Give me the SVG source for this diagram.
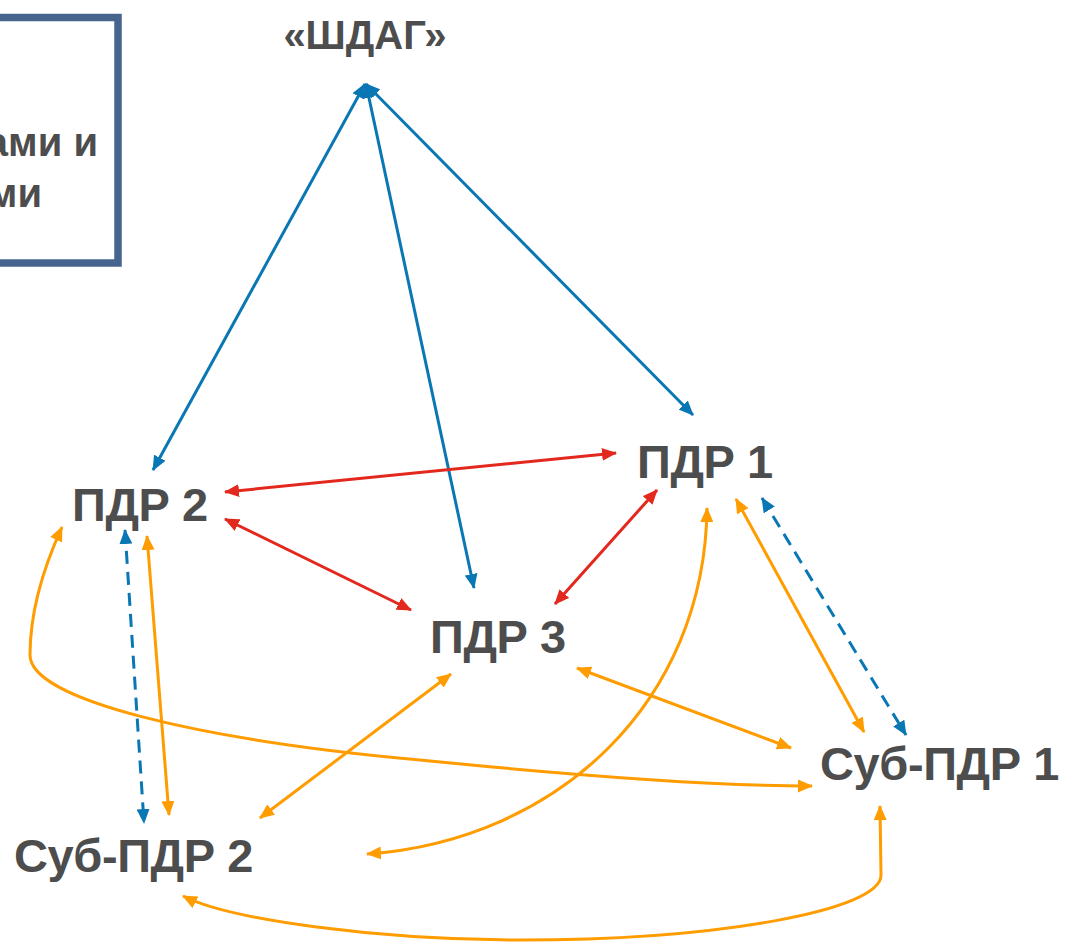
<svg xmlns="http://www.w3.org/2000/svg" width="1068" height="945" viewBox="0 0 1068 945">
<style>
.t{font-family:"Liberation Sans",Arial,sans-serif;font-weight:bold;fill:#4d4d4d}
.n{font-size:47px;letter-spacing:-0.4px}
.b{stroke:#0a77b5;stroke-width:3;fill:none}
.r{stroke:#e3281e;stroke-width:3;fill:none}
.o{stroke:#ff9c00;stroke-width:3;fill:none}
.d{stroke-dasharray:13 8}
</style>
<defs>
<marker id="mb" viewBox="0 0 15 13" markerUnits="userSpaceOnUse" markerWidth="15" markerHeight="13" refX="14" refY="6.5" orient="auto-start-reverse"><path d="M0,0 L15,6.5 L0,13 z" fill="#0a77b5"/></marker>
<marker id="mr" viewBox="0 0 15 13" markerUnits="userSpaceOnUse" markerWidth="15" markerHeight="13" refX="14" refY="6.5" orient="auto-start-reverse"><path d="M0,0 L15,6.5 L0,13 z" fill="#e3281e"/></marker>
<marker id="mo" viewBox="0 0 15 13" markerUnits="userSpaceOnUse" markerWidth="15" markerHeight="13" refX="14" refY="6.5" orient="auto-start-reverse"><path d="M0,0 L15,6.5 L0,13 z" fill="#ff9c00"/></marker>
</defs>
<rect width="1068" height="945" fill="#ffffff"/>
<g id="legend">
<rect x="-20" y="17.5" width="138" height="245.5" fill="none" stroke="#46648e" stroke-width="7.5"/>
<text class="t" x="98" y="156" font-size="40" text-anchor="end">ами и</text>
<text class="t" x="42" y="207" font-size="40" text-anchor="end">ми</text>
</g>
<g id="connectors">
<path class="b" d="M365,84 L153,470" marker-start="url(#mb)" marker-end="url(#mb)"/>
<path class="b" d="M366,84 L474,588" marker-start="url(#mb)" marker-end="url(#mb)"/>
<path class="b" d="M366,84 L693,415" marker-start="url(#mb)" marker-end="url(#mb)"/>
<path class="r" d="M225,492 L616,453" marker-start="url(#mr)" marker-end="url(#mr)"/>
<path class="r" d="M225,519 L411,610" marker-start="url(#mr)" marker-end="url(#mr)"/>
<path class="r" d="M657,490 L555,604" marker-start="url(#mr)" marker-end="url(#mr)"/>
<path class="o" d="M451,674 L260,818" marker-start="url(#mo)" marker-end="url(#mo)"/>
<path class="o" d="M577,668 L791,748" marker-start="url(#mo)" marker-end="url(#mo)"/>
<path class="o" d="M736,499 L864,732" marker-start="url(#mo)" marker-end="url(#mo)"/>
<path class="b d" d="M762,498 L906,735" marker-start="url(#mb)" marker-end="url(#mb)"/>
<path class="b d" d="M125,530 L144,823" marker-start="url(#mb)" marker-end="url(#mb)"/>
<path class="o" d="M147,536 L169,815" marker-start="url(#mo)" marker-end="url(#mo)"/>
<path class="o" d="M62,527 C40,575 30,620 30,655 C30,700 200,740 420,760 C600,778 720,786 812,786" marker-start="url(#mo)" marker-end="url(#mo)"/>
<path class="o" d="M707,508 C705,700 560,840 367,854" marker-start="url(#mo)" marker-end="url(#mo)"/>
<path class="o" d="M880,806 L881,875 C882,910 720,940 520,940 C380,940 230,920 183,896" marker-start="url(#mo)" marker-end="url(#mo)"/>
</g>
<g id="shdag"><text class="t" x="365" y="49" font-size="40" text-anchor="middle">«ШДАГ»</text></g>
<g id="pdr1"><text class="t n" x="637" y="478">ПДР 1</text></g>
<g id="pdr2"><text class="t n" x="72" y="521">ПДР 2</text></g>
<g id="pdr3"><text class="t n" x="430" y="653">ПДР 3</text></g>
<g id="sub1"><text class="t n" x="820" y="780">Суб-ПДР 1</text></g>
<g id="sub2"><text class="t n" x="14" y="872">Суб-ПДР 2</text></g>
</svg>
